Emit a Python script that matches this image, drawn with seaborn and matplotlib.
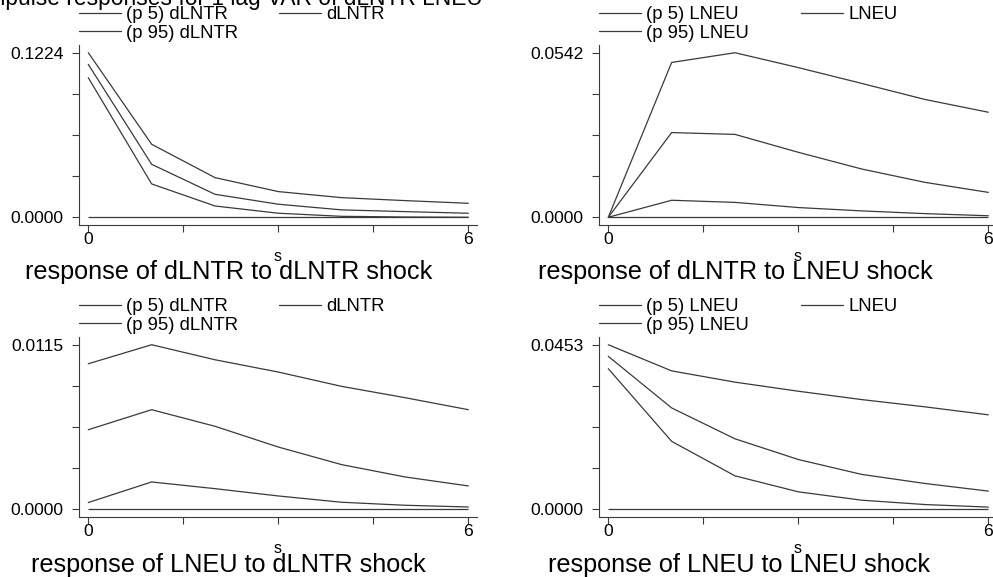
import numpy as np
import pandas as pd
import matplotlib
matplotlib.use("Agg")
import matplotlib.pyplot as plt
import seaborn as sns
from matplotlib.ticker import FixedLocator, FormatStrFormatter

sns.set_style("ticks")
plt.rcParams["font.family"] = ["Liberation Sans", "DejaVu Sans"]
plt.rcParams["text.color"] = "black"

# impulse response steps
steps = [0, 1, 2, 3, 4, 5, 6]

# response of dLNTR to dLNTR shock
tr_tr_lo = [0.1038, 0.0248, 0.0084, 0.0030, 0.0007, 0.0002, 0.0000]
tr_tr_irf = [0.1137, 0.0394, 0.0171, 0.0097, 0.0055, 0.0042, 0.0030]
tr_tr_hi = [0.1224, 0.0543, 0.0295, 0.0191, 0.0146, 0.0124, 0.0104]

# response of dLNTR to LNEU shock
tr_eu_lo = [0.0, 0.0056, 0.0049, 0.0032, 0.0021, 0.0012, 0.0005]
tr_eu_irf = [0.0, 0.0279, 0.0273, 0.0214, 0.0159, 0.0115, 0.0082]
tr_eu_hi = [0.0, 0.0510, 0.0542, 0.0493, 0.0441, 0.0388, 0.0346]

# response of LNEU to dLNTR shock
eu_tr_lo = [0.00047, 0.00191, 0.00144, 0.00093, 0.00049, 0.00028, 0.00016]
eu_tr_irf = [0.00556, 0.00696, 0.00580, 0.00435, 0.00312, 0.00226, 0.00163]
eu_tr_hi = [0.01017, 0.01150, 0.01045, 0.00959, 0.00859, 0.00780, 0.00696]

# response of LNEU to LNEU shock
eu_eu_lo = [0.0387, 0.0187, 0.0092, 0.0048, 0.0025, 0.0013, 0.0006]
eu_eu_irf = [0.0421, 0.0279, 0.0194, 0.0137, 0.0096, 0.0071, 0.0050]
eu_eu_hi = [0.0453, 0.0381, 0.0350, 0.0325, 0.0302, 0.0282, 0.0260]

panels = [
    ("dLNTR", "dLNTR", tr_tr_lo, tr_tr_irf, tr_tr_hi),
    ("dLNTR", "LNEU", tr_eu_lo, tr_eu_irf, tr_eu_hi),
    ("LNEU", "dLNTR", eu_tr_lo, eu_tr_irf, eu_tr_hi),
    ("LNEU", "LNEU", eu_eu_lo, eu_eu_irf, eu_eu_hi),
]

W, H = 993, 577
fig = plt.figure(figsize=(W / 100, H / 100), dpi=100)
fig.patch.set_facecolor("white")

# axes boxes in pixels: left, top, right, bottom
boxes = [(79, 45, 477, 225), (599, 45, 997, 225),
         (79, 337, 477, 517), (599, 337, 997, 517)]
sub_pos = [(229, 272), (735, 272), (228, 565), (739, 565)]
col_gap = [2.2, 2.8, 2.2, 2.8]
col = "#3a3a3a"


def px(x, y):
    return x / W, 1 - y / H


for (resp, imp, lo, irf, hi), (l, t, r, b), (sx, sy), cg in zip(panels, boxes, sub_pos, col_gap):
    ax = fig.add_axes([l / W, 1 - b / H, (r - l) / W, (b - t) / H])
    df = pd.DataFrame({
        "s": steps * 3,
        "value": lo + hi + irf,
        "series": [f"(p 5) {imp}"] * 7 + [f"(p 95) {imp}"] * 7 + [imp] * 7,
    })
    order = [f"(p 5) {imp}", f"(p 95) {imp}", imp]
    sns.lineplot(data=df, x="s", y="value", hue="series", hue_order=order,
                 palette={k: col for k in order}, linewidth=0.9, ax=ax)
    ax.hlines(0, steps[0], steps[-1], color=col, linewidth=0.9)

    ymax = max(hi)
    pad = 0.047 * ymax
    ax.set_ylim(-pad, ymax + pad)
    ax.set_xlim(-0.147, 6.137)
    ax.set_facecolor("white")
    for sp in ["top", "right"]:
        ax.spines[sp].set_visible(False)
    for sp in ["left", "bottom"]:
        ax.spines[sp].set_color(col)
        ax.spines[sp].set_linewidth(0.8)

    ax.yaxis.set_major_locator(FixedLocator([0, ymax]))
    ax.yaxis.set_minor_locator(FixedLocator([ymax * 0.25, ymax * 0.5, ymax * 0.75]))
    ax.yaxis.set_major_formatter(FormatStrFormatter("%.4f"))
    ax.xaxis.set_major_locator(FixedLocator([0, 6]))
    ax.xaxis.set_minor_locator(FixedLocator([1.5, 3, 4.5]))
    ax.tick_params(which="both", length=5, width=0.8, color=col, direction="out")
    ax.tick_params(axis="y", which="major", labelsize=12.6, pad=6, labelcolor="black")
    ax.tick_params(axis="x", which="major", labelsize=12.6, pad=0, labelcolor="black")
    ax.set_ylabel("")
    ax.set_xlabel("s", fontsize=11.5, labelpad=1.5, color="black")

    sns.move_legend(ax, "upper left", bbox_to_anchor=px(l, t - 39),
                    bbox_transform=fig.transFigure, ncol=2, frameon=False,
                    title=None, fontsize=13.3, handlelength=2.27,
                    handletextpad=0.3, columnspacing=cg, labelspacing=0.1,
                    borderpad=0, borderaxespad=0)

    fig.text(*px(sx, sy), f"response of {resp} to {imp} shock",
             ha="center", va="center", fontsize=18.2, color="black")

fig.text(*px(-20, 5), "Impulse responses for 1 lag VAR of dLNTR LNEU",
         ha="left", va="baseline", fontsize=16.4, color="black")

fig.savefig("out.png", dpi=100, facecolor="white")
